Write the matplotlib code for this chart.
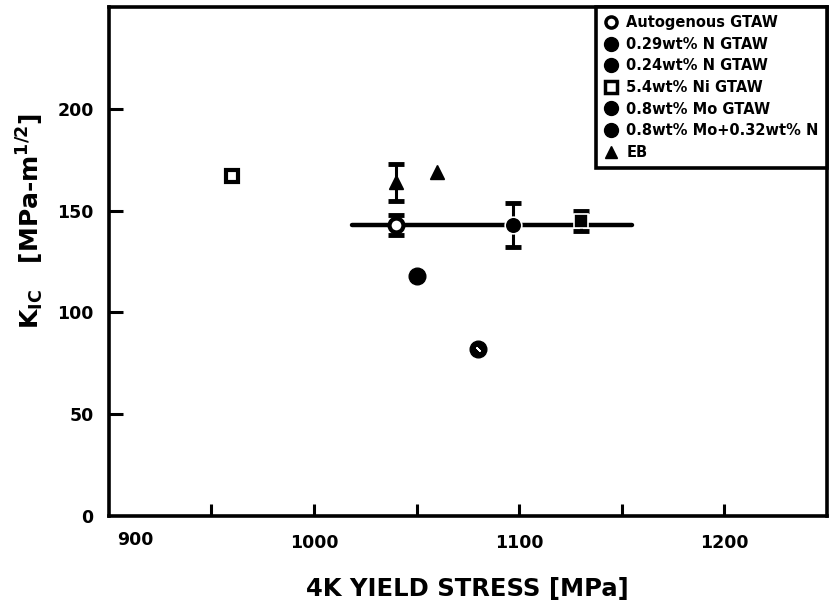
import matplotlib
matplotlib.use("Agg")
import matplotlib.pyplot as plt
from matplotlib.lines import Line2D

plt.rcParams['font.family'] = ['DejaVu Sans']
plt.rcParams['font.weight'] = 'bold'
plt.rcParams['mathtext.fontset'] = 'dejavusans'

# data (yield stress MPa, K_IC MPa-m^1/2)
autog_x, autog_y, autog_err = [1040], [143], [5]
n29_x, n29_y, n29_err = [1097], [143], [11]
n24_x, n24_y = [1050], [118]
ni_x, ni_y = [960], [167]
mo_x, mo_y, mo_err = [1130], [145], [5]
mon_x, mon_y = [1080], [82]
eb_x, eb_y, eb_err = [1040, 1060], [164, 169], [9, 0]
band_x, band_y = [1018.5, 1155], [143, 143]

labels = ["Autogenous GTAW", "0.29wt% N GTAW", "0.24wt% N GTAW",
          "5.4wt% Ni GTAW", "0.8wt% Mo GTAW", "0.8wt% Mo+0.32wt% N", "EB"]

fig = plt.figure(figsize=(8.31, 6.07), dpi=100)
ax = fig.add_axes([0.131, 0.150, 0.864, 0.838])

ax.plot(band_x, band_y, color='black', lw=3.2, solid_capstyle='round', zorder=1)

ebkw = dict(ecolor='black', elinewidth=2.2, capsize=6, capthick=3.5, ls='none', zorder=2)
ax.errorbar(autog_x, autog_y, yerr=autog_err, **ebkw)
ax.plot(autog_x, autog_y, 'o', ms=10, mfc='white', mec='black', mew=3, zorder=3)
ax.errorbar(n29_x, n29_y, yerr=n29_err, **ebkw)
ax.plot(n29_x, n29_y, 'o', ms=12, color='black', mec='white', mew=1.2, zorder=3)
ax.plot(n24_x, n24_y, 'o', ms=12, color='black', zorder=3)
ax.plot(ni_x, ni_y, 's', ms=9, mfc='white', mec='black', mew=3, zorder=3)
ax.errorbar(mo_x, mo_y, yerr=mo_err, **ebkw)
ax.plot(mo_x, mo_y, 's', ms=10, color='black', mec='white', mew=1.2, zorder=3)
ax.plot(mon_x, mon_y, 'o', ms=12, color='black', zorder=3)
ax.plot(mon_x, mon_y, marker=(2, 2, 45), ms=4, mec='white', mew=1.2, ls='none', zorder=4)
ax.errorbar(eb_x[:1], eb_y[:1], yerr=eb_err[:1], **ebkw)
ax.plot(eb_x, eb_y, '^', ms=10, color='black', ls='none', zorder=3)

ax.set_xlim(900, 1250)
ax.set_ylim(0, 250)
ax.set_xticks([950, 1000, 1050, 1100, 1150, 1200])
ax.set_xticklabels(["", "1000", "", "1100", "", "1200"])
ax.tick_params(axis='x', direction='in', length=9, width=2.2, pad=13, labelsize=12.5)
ax.text(904, -0.03, "900", transform=ax.get_xaxis_transform(), ha='left', va='top',
        fontsize=12.5, fontweight='bold')
ax.set_yticks([0, 50, 100, 150, 200])
ax.tick_params(axis='y', direction='in', length=10, width=2.2, pad=11, labelsize=12.5)
ax.yaxis.get_major_ticks()[0].tick1line.set_visible(False)
for lab in ax.get_xticklabels() + ax.get_yticklabels():
    lab.set_fontweight('bold')

for s in ax.spines.values():
    s.set_linewidth(2.6)

ax.set_xlabel("4K YIELD STRESS [MPa]", fontsize=17.5, fontweight='bold', labelpad=18)
ax.set_ylabel(r"K$_{\mathbf{IC}}$   [MPa-m$^{\mathbf{1/2}}$]", fontsize=18, fontweight='bold')
ax.yaxis.set_label_coords(-0.088, 0.58)

handles = [
    Line2D([], [], marker='o', ls='none', ms=8, mfc='white', mec='black', mew=2.5),
    Line2D([], [], marker='o', ls='none', ms=10, color='black'),
    Line2D([], [], marker='o', ls='none', ms=10, color='black'),
    Line2D([], [], marker='s', ls='none', ms=8, mfc='white', mec='black', mew=2.5),
    Line2D([], [], marker='o', ls='none', ms=10, color='black'),
    Line2D([], [], marker='o', ls='none', ms=10, color='black'),
    Line2D([], [], marker='^', ls='none', ms=8, color='black'),
]
leg = ax.legend(handles, labels, loc='upper right', borderaxespad=0, fancybox=False,
                framealpha=1, edgecolor='black', handlelength=1.0, handletextpad=0.55,
                labelspacing=0.45, borderpad=0.55, prop={'weight': 'bold', 'size': 10.5})
leg.get_frame().set_linewidth(2.6)

fig.savefig("out.png", dpi=100)
